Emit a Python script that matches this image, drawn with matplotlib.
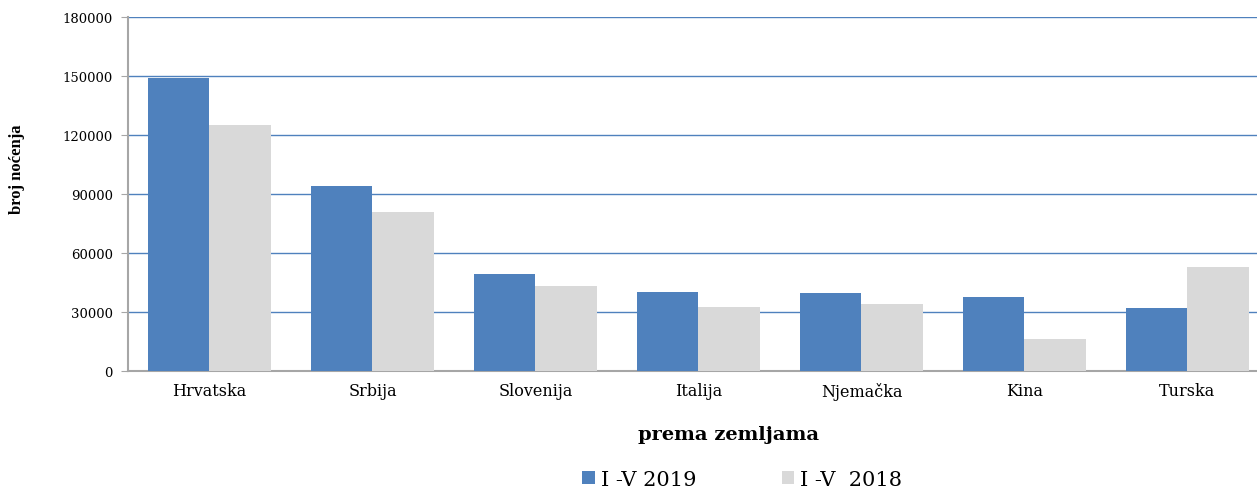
import matplotlib.pyplot as plt
import numpy as np

# podaci
countries = ['Hrvatska', 'Srbija', 'Slovenija', 'Italija', 'Njemačka', 'Kina', 'Turska']
nights_2019 = [149000, 94300, 49300, 40200, 39700, 37400, 32000]
nights_2018 = [125300, 80800, 43200, 32500, 34300, 16300, 53100]
y_ticks = [0, 30000, 60000, 90000, 120000, 150000, 180000]

blue = '#4F81BD'
grey = '#D9D9D9'

fig = plt.figure(figsize=(12.57, 4.89), dpi=100)
# plot area runs a bit past the right edge of the image
ax = fig.add_axes([0.1018, 0.2393, 0.9077, 0.7239])

x = np.arange(len(countries))
w = 0.375
ax.bar(x - w / 2, nights_2019, w, color=blue, label='I -V 2019', zorder=3)
ax.bar(x + w / 2, nights_2018, w, color=grey, label='I -V  2018', zorder=3)

ax.set_xlim(-0.5, len(countries) - 0.5)
ax.set_ylim(0, 180000)
ax.set_yticks(y_ticks)
ax.set_yticklabels([str(t) for t in y_ticks], fontsize=9.5, family='DejaVu Serif')
ax.set_xticks(x)
ax.set_xticklabels(countries, fontsize=11.5, family='DejaVu Serif')

ax.grid(axis='y', color=blue, linewidth=1, zorder=0)
for s in ['top', 'right']:
    ax.spines[s].set_visible(False)
ax.spines['left'].set_color('#A6A6A6')
ax.spines['left'].set_linewidth(1.5)
ax.spines['bottom'].set_color('#A6A6A6')
ax.spines['bottom'].set_linewidth(1.5)
ax.tick_params(axis='y', length=5, color='#A6A6A6', pad=6)
ax.tick_params(axis='x', length=0, pad=8)

fig.text(0.0135, 0.654, 'broj noćenja', rotation=90, ha='center', va='center',
         fontsize=12, fontweight='bold', family='Liberation Serif')
fig.text(0.58, 0.11, 'prema zemljama', ha='center', va='center',
         fontsize=14, fontweight='bold', family='DejaVu Serif')

fig.legend(loc='center', bbox_to_anchor=(0.5905, 0.017), ncol=2, frameon=False,
           prop={'family': 'DejaVu Serif', 'size': 15}, handlelength=0.6,
           handleheight=0.6, columnspacing=4.1, handletextpad=0.3)

fig.savefig('out.png', dpi=100)
